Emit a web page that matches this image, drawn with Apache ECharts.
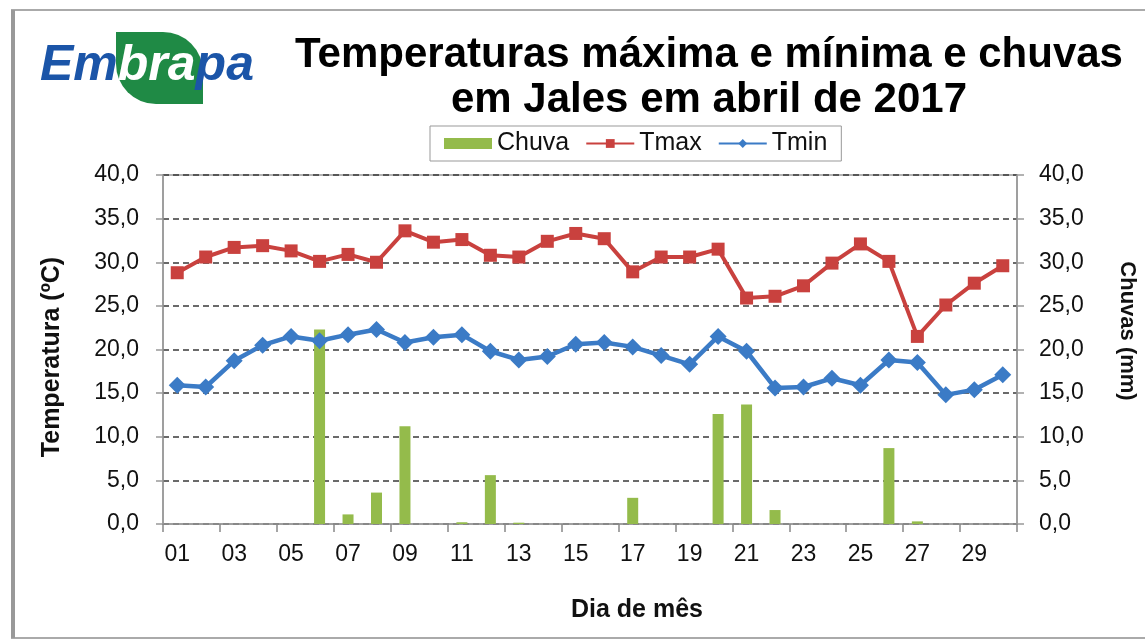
<!DOCTYPE html>
<html>
<head>
<meta charset="utf-8">
<title>Temperaturas máxima e mínima e chuvas em Jales em abril de 2017</title>
<script src="https://cdn.jsdelivr.net/npm/echarts@6/dist/echarts.min.js"></script>
<style>
  html, body { margin: 0; padding: 0; background: #fff; }
  #chart { width: 1145px; height: 641px; }
</style>
</head>
<body>
<div id="chart"></div>
<script>
// dias do mês (rótulos do eixo x)
const days = ['01', '02', '03', '04', '05', '06', '07', '08', '09', '10',
  '11', '12', '13', '14', '15', '16', '17', '18', '19', '20',
  '21', '22', '23', '24', '25', '26', '27', '28', '29', '30'];

// chuva diária (mm) - eixo da direita
const chuva = [0, 0, 0, 0, 0, 22.3, 1.1, 3.6, 11.2, 0,
  0.2, 5.6, 0.15, 0, 0, 0, 3.0, 0, 0, 12.6,
  13.7, 1.6, 0, 0, 0, 8.7, 0.3, 0, 0, 0];

// temperatura máxima (ºC)
const tmax = [28.8, 30.6, 31.7, 31.9, 31.3, 30.1, 30.9, 30.0, 33.6, 32.3,
  32.6, 30.8, 30.6, 32.4, 33.3, 32.7, 28.9, 30.6, 30.6, 31.5,
  25.9, 26.1, 27.3, 29.9, 32.1, 30.1, 21.5, 25.1, 27.6, 29.6];

// temperatura mínima (ºC)
const tmin = [15.9, 15.7, 18.7, 20.5, 21.5, 21.0, 21.7, 22.3, 20.8, 21.4,
  21.7, 19.8, 18.8, 19.2, 20.6, 20.8, 20.3, 19.3, 18.3, 21.5,
  19.8, 15.6, 15.7, 16.7, 15.9, 18.8, 18.5, 14.8, 15.4, 17.1];

const FONT = "'Liberation Sans', Arial, sans-serif";
const colors = { chuva: '#94bb4b', tmax: '#c9413e', tmin: '#3b7bc6' };

// rótulos no formato brasileiro: 40,0
const fmt = v => v.toFixed(1).replace('.', ',');

function valueAxis(position, showSplit, margin) {
  return {
    type: 'value',
    position: position,
    min: 0,
    max: 40,
    interval: 5,
    axisLine: { show: true, lineStyle: { color: '#999', width: 1.5 } },
    axisTick: { show: true, length: 7, lineStyle: { color: '#999', width: 1.5 } },
    axisLabel: { formatter: fmt, fontSize: 23, color: '#111', fontFamily: FONT, margin: margin },
    splitLine: {
      show: showSplit,
      lineStyle: { color: '#3a3a3a', width: 1.5, type: [6, 4] }
    }
  };
}

const chart = echarts.init(document.getElementById('chart'), null, { renderer: 'canvas' });

const option = {
  backgroundColor: '#fff',
  animation: false,
  textStyle: { fontFamily: FONT },
  grid: {
    left: 163, right: 128, top: 175, bottom: 117,
    show: true, borderColor: '#999', borderWidth: 1.5
  },
  legend: {
    left: 430,
    top: 126,
    padding: [5, 14],
    borderColor: '#999',
    borderWidth: 1,
    backgroundColor: '#fff',
    itemWidth: 48,
    itemHeight: 11,
    itemGap: 16,
    textStyle: { fontSize: 25, color: '#111', fontFamily: FONT },
    data: [{ name: 'Chuva', icon: 'rect' }, 'Tmax', 'Tmin']
  },
  xAxis: {
    type: 'category',
    data: days,
    boundaryGap: true,
    axisLine: { lineStyle: { color: '#999', width: 1.5 } },
    axisTick: { show: true, interval: 1, length: 8, lineStyle: { color: '#888', width: 1.5 } },
    axisLabel: { interval: 1, fontSize: 23, color: '#111', margin: 19, fontFamily: FONT }
  },
  yAxis: [
    valueAxis('left', true, 24),
    valueAxis('right', false, 22)
  ],
  series: [
    {
      name: 'Chuva',
      type: 'bar',
      yAxisIndex: 1,
      barWidth: 11,
      itemStyle: { color: colors.chuva },
      data: chuva,
      z: 1
    },
    {
      name: 'Tmax',
      type: 'line',
      yAxisIndex: 0,
      symbol: 'rect',
      symbolSize: 13,
      lineStyle: { color: colors.tmax, width: 4 },
      itemStyle: { color: colors.tmax },
      data: tmax,
      z: 3
    },
    {
      name: 'Tmin',
      type: 'line',
      yAxisIndex: 0,
      symbol: 'diamond',
      symbolSize: 17,
      lineStyle: { color: colors.tmin, width: 4.5 },
      itemStyle: { color: colors.tmin },
      data: tmin,
      z: 4
    }
  ],
  graphic: [
    // moldura da figura
    {
      type: 'rect', z: -10, silent: true,
      shape: { x: 12, y: 10, width: 1140, height: 628 },
      style: { fill: null, stroke: '#aaa', lineWidth: 2 }
    },
    {
      type: 'line', z: -10, silent: true,
      shape: { x1: 13, y1: 10, x2: 13, y2: 638 },
      style: { stroke: '#999', lineWidth: 4 }
    },
    // logotipo Embrapa
    {
      type: 'rect', silent: true,
      shape: { x: 116, y: 32, width: 87, height: 72, r: [0, 40, 0, 40] },
      style: { fill: '#1f8a45' }
    },
    {
      type: 'text', silent: true,
      x: 40, y: 66,
      style: {
        text: '{b|Em}{w|bra}{b|pa}',
        verticalAlign: 'middle',
        rich: {
          b: { fontSize: 50, fontWeight: 'bold', fontStyle: 'italic', fill: '#1b55a8', fontFamily: FONT },
          w: { fontSize: 50, fontWeight: 'bold', fontStyle: 'italic', fill: '#fff', fontFamily: FONT }
        }
      }
    },
    // título
    {
      type: 'text', silent: true,
      x: 709, y: 55,
      style: {
        text: 'Temperaturas máxima e mínima e chuvas',
        align: 'center', verticalAlign: 'middle',
        fontSize: 42, fontWeight: 'bold', fill: '#000', fontFamily: FONT
      }
    },
    {
      type: 'text', silent: true,
      x: 709, y: 100,
      style: {
        text: 'em Jales em abril de 2017',
        align: 'center', verticalAlign: 'middle',
        fontSize: 42, fontWeight: 'bold', fill: '#000', fontFamily: FONT
      }
    },
    // títulos dos eixos
    {
      type: 'text', silent: true,
      x: 52, y: 357, rotation: Math.PI / 2,
      style: {
        text: 'Temperatura (ºC)',
        align: 'center', verticalAlign: 'middle',
        fontSize: 25, fontWeight: 'bold', fill: '#111', fontFamily: FONT
      }
    },
    {
      type: 'text', silent: true,
      x: 1127, y: 331, rotation: -Math.PI / 2,
      style: {
        text: 'Chuvas (mm)',
        align: 'center', verticalAlign: 'middle',
        fontSize: 22, fontWeight: 'bold', fill: '#111', fontFamily: FONT
      }
    },
    {
      type: 'text', silent: true,
      x: 637, y: 610,
      style: {
        text: 'Dia de mês',
        align: 'center', verticalAlign: 'middle',
        fontSize: 25, fontWeight: 'bold', fill: '#111', fontFamily: FONT
      }
    }
  ]
};

chart.setOption(option);
</script>
</body>
</html>
